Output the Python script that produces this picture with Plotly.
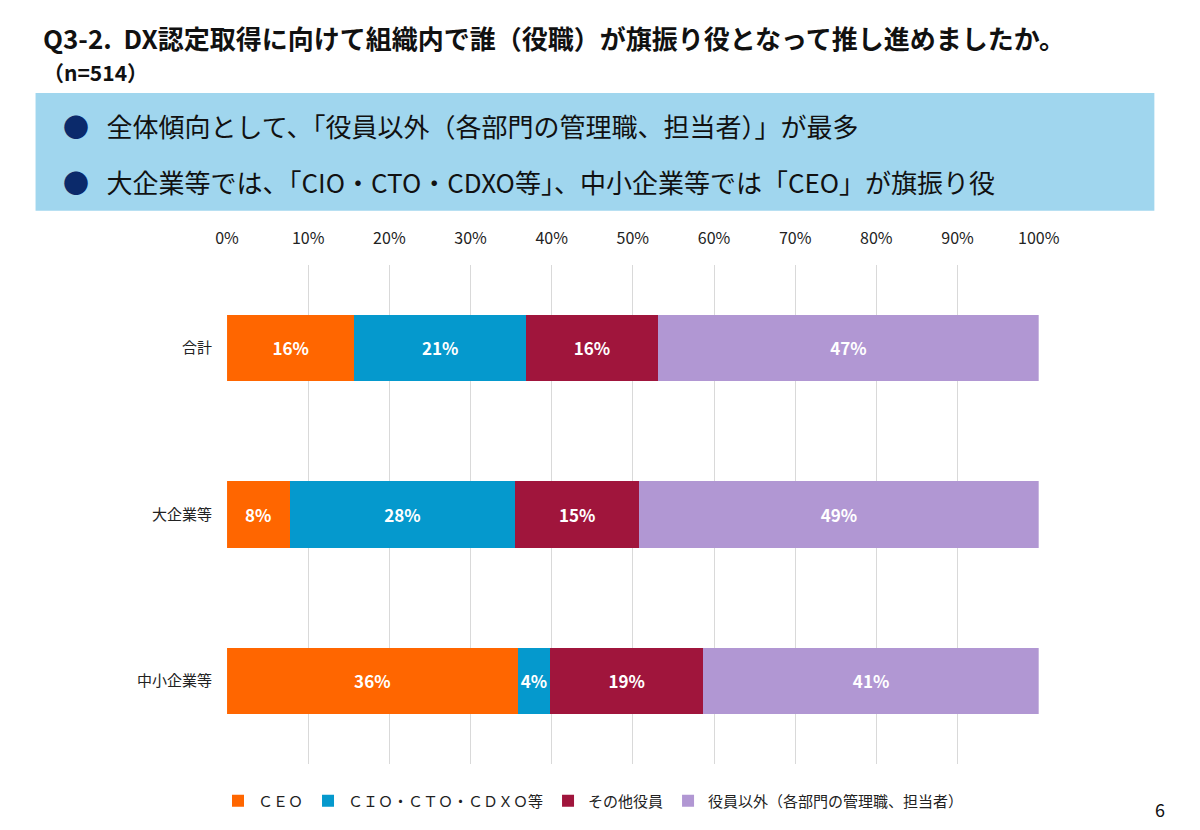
import plotly.graph_objects as go

categories = ["合計", "大企業等", "中小企業等"]
series_names = ["ＣＥＯ", "ＣＩＯ・ＣＴＯ・ＣＤＸＯ等", "その他役員", "役員以外（各部門の管理職、担当者）"]
ceo = [15.7, 7.7, 35.8]
cio = [21.1, 27.8, 4.0]
other_exec = [16.3, 15.3, 18.9]
non_exec = [46.9, 49.2, 41.3]
colors = ["#FF6600", "#0599CD", "#A0153C", "#B197D3"]

# figure is a bit smaller than the window so the page gets no scrollbars (body margin 8px)
W, H = 1180, 810
OFF = 8
font = "Noto Sans CJK JP"


def fx(x):
    return (x - OFF) / W


def fy(y):
    return 1 - (y - OFF) / H


fig = go.Figure()
for name, vals, col in zip(series_names, [ceo, cio, other_exec, non_exec], colors):
    fig.add_trace(go.Bar(
        y=categories, x=vals, name=name, orientation="h",
        marker=dict(color=col, line=dict(width=0)), width=0.4,
        text=[f"{v:.0f}%" for v in vals], textposition="inside",
        insidetextanchor="middle", textangle=0,
        textfont=dict(color="white", size=17, family=font, weight="bold"),
    ))

fig.update_layout(
    width=W, height=H, barmode="stack", bargap=0.6,
    margin=dict(l=0, r=0, t=0, b=0),
    plot_bgcolor="white", paper_bgcolor="white",
    font=dict(family=font, color="#222", size=15),
    xaxis=dict(domain=[fx(221), fx(1056)], range=[0, 100], side="top",
               tickvals=list(range(0, 101, 10)), ticktext=[f"{v}%" for v in range(0, 101, 10)],
               showgrid=True, gridcolor="#D9D9D9", zeroline=False, ticks="",
               tickfont=dict(size=16), ticklabelstandoff=16),
    yaxis=dict(domain=[fy(765), fy(265)], autorange="reversed",
               showgrid=False, ticks="", ticklabelstandoff=14,
               tickfont=dict(size=15)),
    legend=dict(orientation="h", x=0.5, xanchor="center", y=fy(802), yanchor="middle",
                font=dict(size=15), traceorder="normal", itemwidth=30),
    showlegend=True,
    shapes=[dict(type="rect", xref="paper", yref="paper",
                 x0=fx(24), x1=fx(1175), y0=fy(211), y1=fy(93),
                 fillcolor="#A0D6EE", line=dict(width=0), layer="below")],
    annotations=[
        dict(text="<b>Q3-2.  DX認定取得に向けて組織内で誰（役職）が旗振り役となって推し進めましたか。</b>",
             x=fx(30), y=fy(38), xref="paper", yref="paper", xanchor="left", yanchor="middle",
             showarrow=False, font=dict(size=26, color="#111")),
        dict(text="<b>（n=514）</b>", x=fx(30), y=fy(72), xref="paper", yref="paper",
             xanchor="left", yanchor="middle", showarrow=False, font=dict(size=21, color="#111")),
        dict(text="<span style='color:#0B2A6B'>●</span>   全体傾向として、「役員以外（各部門の管理職、担当者）」が最多",
             x=fx(50), y=fy(126), xref="paper", yref="paper", xanchor="left", yanchor="middle",
             showarrow=False, font=dict(size=26, color="#111")),
        dict(text="<span style='color:#0B2A6B'>●</span>   大企業等では、「CIO・CTO・CDXO等」、中小企業等では「CEO」が旗振り役",
             x=fx(50), y=fy(182), xref="paper", yref="paper", xanchor="left", yanchor="middle",
             showarrow=False, font=dict(size=26, color="#111")),
        dict(text="6", x=fx(1188), y=fy(810), xref="paper", yref="paper", xanchor="right",
             yanchor="middle", showarrow=False, font=dict(size=18, color="#111")),
    ],
)

fig.write_html("out.html")
